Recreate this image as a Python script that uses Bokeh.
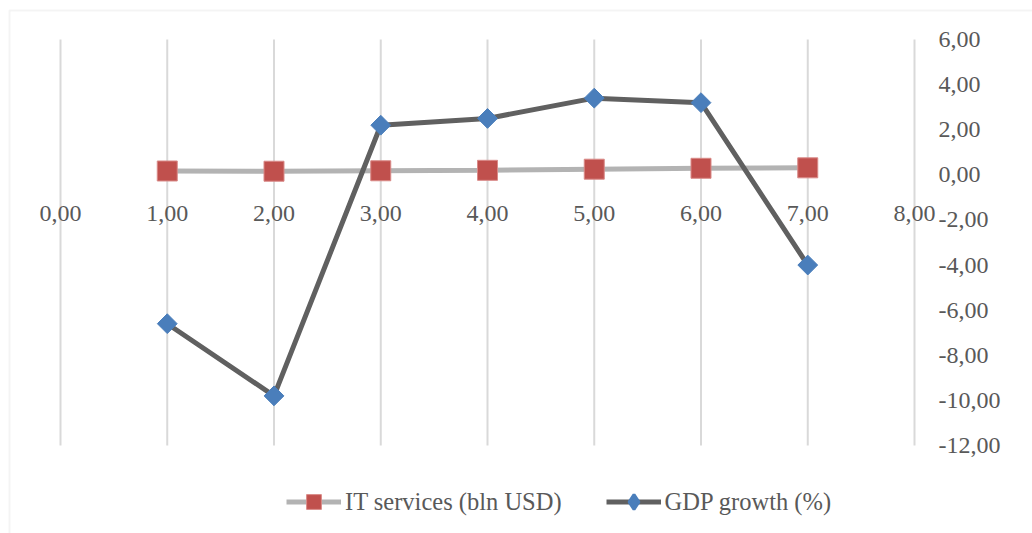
import math
from bokeh.plotting import figure
from bokeh.models import (LinearAxis, FixedTicker, Range1d, CustomJSTickFormatter,
                          Legend, LegendItem, ColumnDataSource, BoxAnnotation)
from bokeh.embed import file_html
from bokeh.resources import INLINE

# ---- data ----
x_vals = [1, 2, 3, 4, 5, 6, 7]
it_services = [0.17, 0.16, 0.18, 0.20, 0.25, 0.29, 0.31]
gdp_growth = [-6.6, -9.8, 2.2, 2.5, 3.4, 3.2, -4.0]
x_ticks = [0, 1, 2, 3, 4, 5, 6, 7, 8]
y_ticks = [-12, -10, -8, -6, -4, -2, 0, 2, 4, 6]
series_names = ["IT services (bln USD)", "GDP growth (%)"]

FONT = "Liberation Serif"
TXT = "#595959"
GRID = "#d9d9d9"
BLUE = "#4a7ebb"

W, H = 1032, 533
# plot area of the reference: x 0..8 -> px 60..914, y 6..-12 -> px 39..445
px_per_x = (914 - 60) / 8.0
px_per_y = (445 - 39) / 18.0
x0 = 0 - 60 / px_per_x
x1 = 8 + (W - 914) / px_per_x
y1 = 6 + 39 / px_per_y
y0 = -12 - (H - 445) / px_per_y

p = figure(width=W, height=H, output_backend="svg", toolbar_location=None,
           x_axis_type=None, y_axis_type=None,
           x_range=Range1d(x0, x1), y_range=Range1d(y0, y1),
           min_border=0, min_border_left=0, min_border_right=0,
           min_border_top=0, min_border_bottom=0)
p.outline_line_color = None
p.background_fill_color = "white"
p.border_fill_color = "white"

fmt = CustomJSTickFormatter(code="return tick.toFixed(2).replace('.', ',');")

# vertical grid lines between the y-axis limits
n = len(x_ticks)
p.segment(x0=x_ticks, y0=[min(y_ticks)] * n, x1=x_ticks, y1=[max(y_ticks)] * n,
          line_color=GRID, line_width=2)

# y axis at x = 8 (right side)
yax = LinearAxis(ticker=FixedTicker(ticks=y_ticks), formatter=fmt, fixed_location=max(x_ticks),
                 axis_line_color=None, major_tick_line_color=None, minor_tick_line_color=None,
                 major_tick_in=0, major_tick_out=0, major_label_standoff=24,
                 major_label_text_font=FONT, major_label_text_font_size="24px",
                 major_label_text_color=TXT)
p.add_layout(yax, "right")

# x axis crossing at y = 0
xax = LinearAxis(ticker=FixedTicker(ticks=x_ticks), formatter=fmt, fixed_location=0,
                 axis_line_color=None, major_tick_line_color=None, minor_tick_line_color=None,
                 major_tick_in=0, major_tick_out=0, major_label_standoff=31,
                 major_label_text_font=FONT, major_label_text_font_size="24px",
                 major_label_text_color=TXT)
p.add_layout(xax, "below")

src = ColumnDataSource(dict(x=x_vals, it=it_services, gdp=gdp_growth))

it_line = p.line("x", "it", source=src, line_color="#b3b3b3", line_width=5)
it_pts = p.scatter("x", "it", source=src, marker="square", size=20,
                   fill_color="#c0504d", line_color="#d98a88", line_width=1)
gdp_line = p.line("x", "gdp", source=src, line_color="#606060", line_width=5)
# diamond marker used for the legend swatch (hidden under the plotted diamonds)
gdp_key = p.scatter("x", "gdp", source=src, marker="diamond", size=13,
                    fill_color=BLUE, line_color=BLUE, line_width=3)
gdp_pts = p.scatter("x", "gdp", source=src, marker="square", size=14, angle=math.pi / 4,
                    fill_color=BLUE, line_color=BLUE, line_width=1)

legend = Legend(items=[LegendItem(label=series_names[0], renderers=[it_line, it_pts]),
                       LegendItem(label=series_names[1], renderers=[gdp_line, gdp_key])],
                orientation="horizontal", location=(286, 13),
                glyph_width=55, glyph_height=37, label_standoff=4, spacing=44,
                padding=5, margin=0, border_line_color=None, background_fill_alpha=0,
                label_text_font=FONT, label_text_font_size="24.5px", label_text_color=TXT)
p.add_layout(legend, "center")

# chart border
p.add_layout(BoxAnnotation(left=9, right=3000, top=10, bottom=3000,
                           left_units="canvas", right_units="canvas",
                           top_units="canvas", bottom_units="canvas",
                           fill_color=None, line_color=GRID, line_width=2))

open("out.html", "w").write(file_html(p, INLINE))
